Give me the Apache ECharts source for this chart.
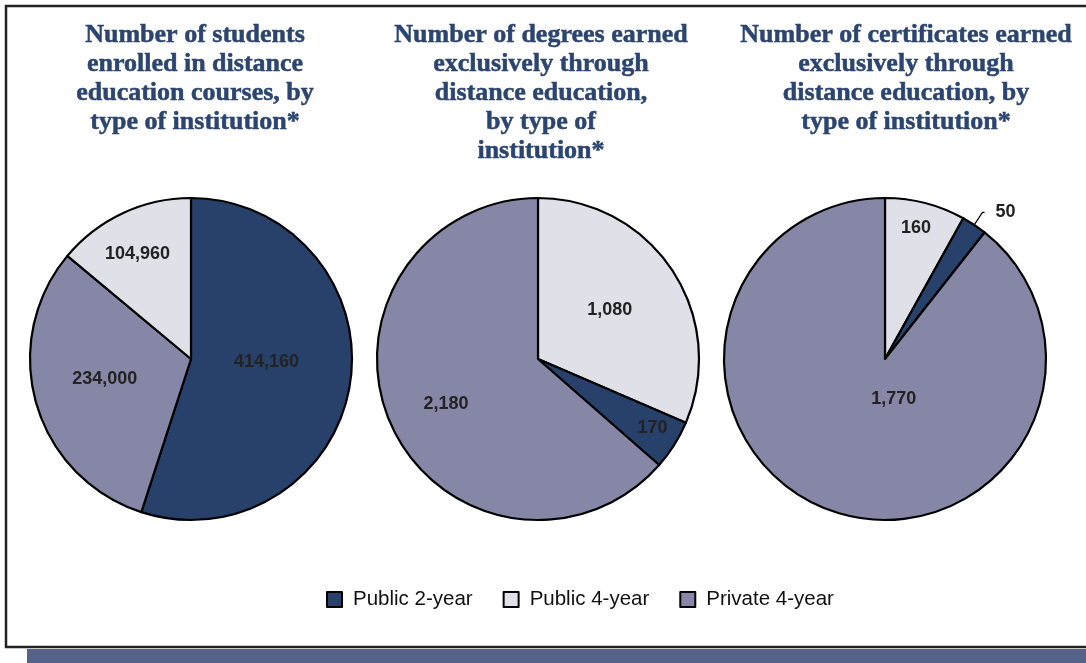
<!DOCTYPE html>
<html>
<head>
<meta charset="utf-8">
<script src="https://cdn.jsdelivr.net/npm/echarts@6/dist/echarts.min.js"></script>
<style>
  html, body { margin: 0; padding: 0; background: #ffffff; }
  #chart { width: 1086px; height: 663px; }
</style>
</head>
<body>
<div id="chart"></div>
<script>
// Institution types (legend order) and their colours
const categories = ['Public 2-year', 'Public 4-year', 'Private 4-year'];
const colors = ['#27416b', '#e0e0e9', '#8687a7'];

// Values per institution type, in category order
const students = [414160, 104960, 234000];
const degrees = [170, 1080, 2180];
const certificates = [50, 160, 1770];

const titles = [
  'Number of students\nenrolled in distance\neducation courses, by\ntype of institution*',
  'Number of degrees earned\nexclusively through\ndistance education,\nby type of\ninstitution*',
  'Number of certificates earned\nexclusively through\ndistance education, by\ntype of institution*'
];

// Clockwise slice order (from 12 o'clock) for each pie, as category indices
const sliceOrder = [[0, 2, 1], [1, 0, 2], [1, 0, 2]];

// Label nudges (dx, dy) from the default inside position, per category index
const labelNudges = [
  { 0: [-7, -10], 1: [-18, -29], 2: [-6, -3] },
  { 0: [44, 24], 1: [2, -3], 2: [-16, 11] },
  { 1: [10, -50], 2: [36, -39] }
];

const pies = [
  { values: students, cx: 191, titleX: 190 },
  { values: degrees, cx: 538, titleX: 536 },
  { values: certificates, cx: 885, titleX: 901 }
];

const fmt = v => v.toLocaleString('en-US');

const series = pies.map((p, si) => {
  const data = sliceOrder[si].map(ci => {
    const item = {
      name: categories[ci],
      value: p.values[ci],
      catIndex: ci,
      itemStyle: { color: colors[ci] }
    };
    // the smallest certificate slice carries its label outside with a leader line
    if (si === 2 && ci === 0) {
      item.label = { position: 'outside', distanceToLabelLine: 11 };
      item.labelLine = { show: true, length: 15, length2: 2, lineStyle: { color: '#000', width: 1.2 } };
    }
    return item;
  });
  return {
    type: 'pie',
    center: [p.cx, 359],
    radius: 161,
    startAngle: 90,
    clockwise: true,
    avoidLabelOverlap: false,
    data: data,
    itemStyle: { borderColor: '#000', borderWidth: 2.2 },
    label: {
      show: true,
      position: 'inside',
      formatter: prm => fmt(prm.value),
      fontFamily: 'Liberation Sans, Arial, sans-serif',
      fontWeight: 'bold',
      fontSize: 18,
      color: '#222222'
    },
    labelLine: { show: false },
    labelLayout: prm => {
      const ci = data[prm.dataIndex].catIndex;
      const n = labelNudges[si][ci];
      return n ? { dx: n[0], dy: n[1] } : {};
    },
    emphasis: { disabled: true }
  };
});

const chart = echarts.init(document.getElementById('chart'), null, { renderer: 'canvas' });
chart.setOption({
  animation: false,
  backgroundColor: '#ffffff',
  title: pies.map((p, i) => ({
    text: titles[i],
    left: p.titleX,
    top: 16,
    textAlign: 'center',
    textStyle: {
      fontFamily: 'Liberation Serif, Times New Roman, serif',
      fontWeight: 'bold',
      fontSize: 26,
      lineHeight: 29,
      color: '#2b4570',
      textBorderColor: '#2b4570',
      textBorderWidth: 0.5
    }
  })),
  legend: {
    data: categories,
    left: 321,
    top: 584,
    icon: 'rect',
    itemWidth: 15,
    itemHeight: 15,
    itemGap: 30,
    selectedMode: false,
    itemStyle: { borderColor: '#000', borderWidth: 2 },
    textStyle: {
      fontFamily: 'Liberation Sans, Arial, sans-serif',
      fontSize: 20.5,
      color: '#111111',
      padding: [0, 0, 0, 6]
    }
  },
  graphic: [
    {
      type: 'rect',
      z: -10,
      shape: { x: 27, y: 649, width: 1070, height: 20 },
      style: { fill: '#56628a' }
    },
    {
      type: 'rect',
      z: -5,
      shape: { x: 6, y: 6, width: 1100, height: 641 },
      style: { fill: 'none', stroke: '#222222', lineWidth: 2.5 }
    }
  ],
  series: series
});
</script>
</body>
</html>
